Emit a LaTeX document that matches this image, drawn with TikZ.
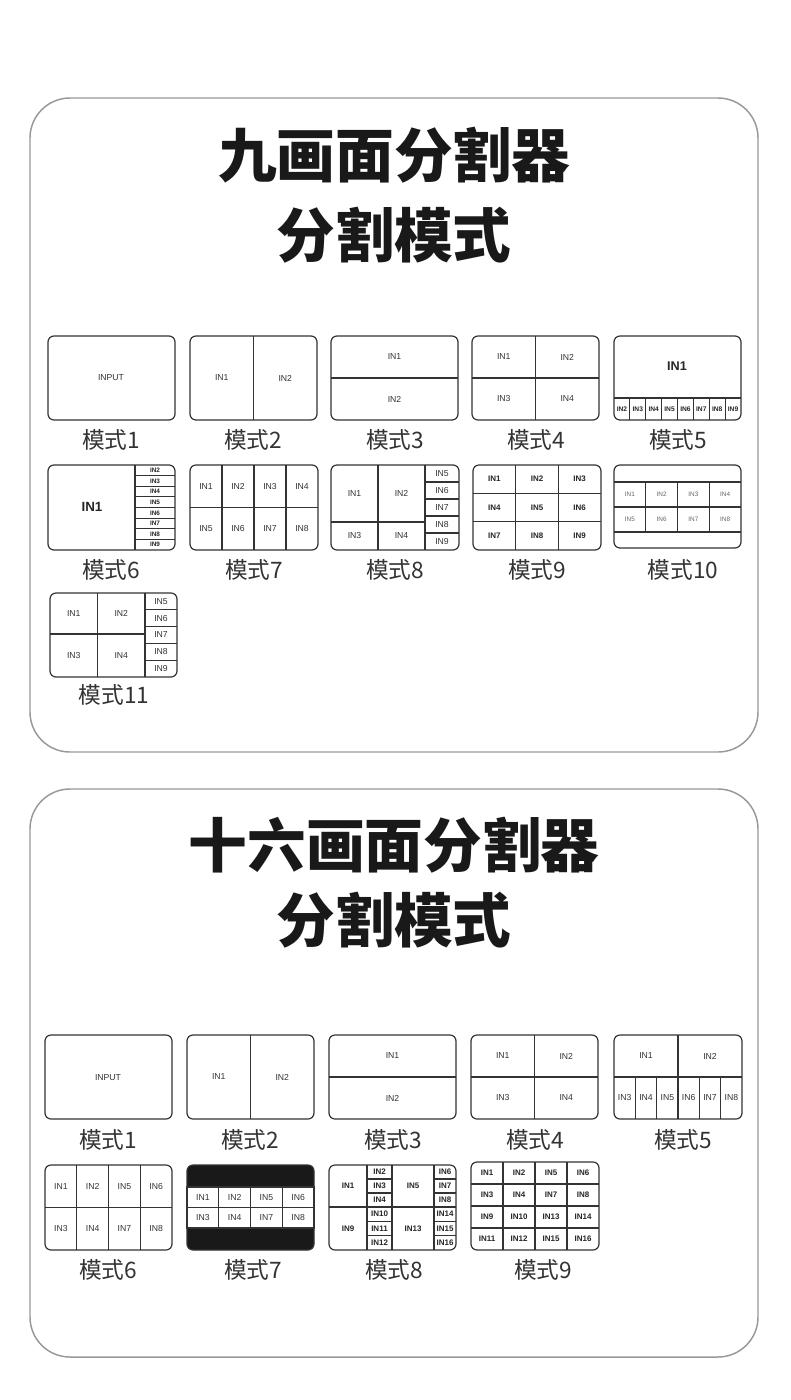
\documentclass[tikz,border=0pt]{standalone}
\usepackage{fontspec}
\setmainfont{Liberation Sans}
\newfontfamily\cjk{Noto Sans CJK SC}
\newfontfamily\cjkb{Noto Sans CJK SC Black}
\begin{document}
\begin{tikzpicture}[x=0.75pt,y=-0.75pt,
  lin/.style={draw=black!80,line width=0.9pt},
  bx/.style={lin,rounded corners=4.5pt},
  panel/.style={draw=black!40,line width=1.1pt,rounded corners=30pt},
  lab/.style={font=\fontsize{6.5}{7}\selectfont,text=black!80,inner sep=0pt},
  blab/.style={font=\fontsize{6}{7}\selectfont\bfseries,text=black!85,inner sep=0pt},
  mlab/.style={font=\cjk\fontsize{17}{19}\selectfont,text=black!80},
  ttl/.style={font=\cjkb\fontsize{44}{48}\selectfont,text=black!90}]
\fill[white] (0,0) rectangle (790,1400);
\useasboundingbox (0,0) rectangle (790,1400);
% cells macro: #1 style, x1 y1 x2 y2 ncol nrow labels
\newcommand\cells[8][lab]{%
  \pgfmathsetmacro\cw{(#4-#2)/#6}\pgfmathsetmacro\ch{(#5-#3)/#7}%
  \ifnum#6>1 \foreach \i in {1,...,\numexpr#6-1\relax}{\draw[lin] ({#2+\i*\cw},#3) -- ({#2+\i*\cw},#5);}\fi
  \ifnum#7>1 \foreach \j in {1,...,\numexpr#7-1\relax}{\draw[lin] (#2,{#3+\j*\ch}) -- (#4,{#3+\j*\ch});}\fi
  \foreach \l [count=\k from 0] in {#8}{%
    \pgfmathtruncatemacro\cc{mod(\k,#6)}\pgfmathtruncatemacro\rr{int(\k/#6)}%
    \node[#1] at ({#2+(\cc+0.5)*\cw},{#3+(\rr+0.5)*\ch}) {\l};}%
}
% ===== Panel 1 =====
\draw[panel] (30,98) rectangle (758,752);
\node[ttl] (t1) at (394,155) {九画面分割器};
\node[ttl] (t2) at (394,235) {分割模式};
% row 1
\draw[bx] (48,336) rectangle (175,420); \node[lab] at (111,378) {INPUT};
\draw[bx] (190,336) rectangle (317,420); \cells{190}{336}{317}{420}{2}{1}{IN1,IN2}
\draw[bx] (331,336) rectangle (458,420); \cells{331}{336}{458}{420}{1}{2}{IN1,IN2}
\draw[bx] (472,336) rectangle (599,420); \cells{472}{336}{599}{420}{2}{2}{IN1,IN2,IN3,IN4}
\draw[bx] (614,336) rectangle (741,420); \draw[lin] (614,398) -- (741,398);
\node[font=\fontsize{9.5}{10}\selectfont\bfseries,text=black!85] at (677,366) {IN1};
\cells[{blab,font=\fontsize{5}{6}\selectfont\bfseries}]{614}{398}{741}{420}{8}{1}{IN2,IN3,IN4,IN5,IN6,IN7,IN8,IN9}
\node[mlab] at (111,440) {模式1};
\node[mlab] at (253,440) {模式2};
\node[mlab] at (395,440) {模式3};
\node[mlab] at (536,440) {模式4};
\node[mlab] at (678,440) {模式5};
% row 2
\draw[bx] (48,465) rectangle (175,550); \draw[lin] (135,465) -- (135,550);
\node[font=\fontsize{10}{11}\selectfont\bfseries,text=black!85] at (92,507) {IN1};
\cells[{blab,font=\fontsize{4.8}{5}\selectfont\bfseries}]{135}{465}{175}{550}{1}{8}{IN2,IN3,IN4,IN5,IN6,IN7,IN8,IN9}
\draw[bx] (190,465) rectangle (318,550); \cells{190}{465}{318}{550}{4}{2}{IN1,IN2,IN3,IN4,IN5,IN6,IN7,IN8}
\draw[bx] (331,465) rectangle (459,550); \draw[lin] (425,465) -- (425,550); \draw[lin] (331,522) -- (425,522);
\cells{331}{465}{425}{522}{2}{1}{IN1,IN2} \cells{331}{522}{425}{550}{2}{1}{IN3,IN4}
\cells{425}{465}{459}{550}{1}{5}{IN5,IN6,IN7,IN8,IN9}
\draw[bx] (473,465) rectangle (601,550); \cells[blab]{473}{465}{601}{550}{3}{3}{IN1,IN2,IN3,IN4,IN5,IN6,IN7,IN8,IN9}
\draw[bx] (614,465) rectangle (741,548); \draw[lin] (614,482) -- (741,482); \draw[lin] (614,532) -- (741,532);
\cells[{lab,font=\fontsize{4.8}{5}\selectfont,text=black!60}]{614}{482}{741}{532}{4}{2}{IN1,IN2,IN3,IN4,IN5,IN6,IN7,IN8}
\node[mlab] at (111,570) {模式6};
\node[mlab] at (254,570) {模式7};
\node[mlab] at (395,570) {模式8};
\node[mlab] at (537,570) {模式9};
\node[mlab] at (683,570) {模式10};
% row 3
\draw[bx] (50,593) rectangle (177,677); \draw[lin] (145,593) -- (145,677); \draw[lin] (50,634) -- (145,634);
\cells{50}{593}{145}{634}{2}{1}{IN1,IN2} \cells{50}{634}{145}{677}{2}{1}{IN3,IN4}
\cells{145}{593}{177}{677}{1}{5}{IN5,IN6,IN7,IN8,IN9}
\node[mlab] at (114,695) {模式11};
% ===== Panel 2 =====
\draw[panel] (30,789) rectangle (758,1357);
\node[ttl] (t3) at (394,845) {十六画面分割器};
\node[ttl] (t4) at (394,920) {分割模式};
\draw[bx] (45,1035) rectangle (172,1119); \node[lab] at (108,1078) {INPUT};
\draw[bx] (187,1035) rectangle (314,1119); \cells{187}{1035}{314}{1119}{2}{1}{IN1,IN2}
\draw[bx] (329,1035) rectangle (456,1119); \cells{329}{1035}{456}{1119}{1}{2}{IN1,IN2}
\draw[bx] (471,1035) rectangle (598,1119); \cells{471}{1035}{598}{1119}{2}{2}{IN1,IN2,IN3,IN4}
\draw[bx] (614,1035) rectangle (742,1119); \draw[lin] (614,1077) -- (742,1077);
\cells{614}{1035}{742}{1077}{2}{1}{IN1,IN2}
\cells{614}{1077}{742}{1119}{6}{1}{IN3,IN4,IN5,IN6,IN7,IN8}
\node[mlab] at (108,1140) {模式1};
\node[mlab] at (250,1140) {模式2};
\node[mlab] at (393,1140) {模式3};
\node[mlab] at (535,1140) {模式4};
\node[mlab] at (683,1140) {模式5};
% row 2
\draw[bx] (45,1165) rectangle (172,1250); \cells{45}{1165}{172}{1250}{4}{2}{IN1,IN2,IN5,IN6,IN3,IN4,IN7,IN8}
\draw[bx,fill=black!90] (187,1165) rectangle (314,1250);
\draw[lin,fill=white] (187,1187) rectangle (314,1228); \cells{187}{1187}{314}{1228}{4}{2}{IN1,IN2,IN5,IN6,IN3,IN4,IN7,IN8}
\draw[bx] (329,1165) rectangle (456,1250);
\draw[lin] (367,1165) -- (367,1250); \draw[lin] (392,1165) -- (392,1250); \draw[lin] (434,1165) -- (434,1250); \draw[lin] (329,1207) -- (456,1207);
\node[blab] at (348,1186) {IN1}; \node[blab] at (413,1186) {IN5};
\node[blab] at (348,1229) {IN9}; \node[blab] at (413,1229) {IN13};
\cells[blab]{367}{1165}{392}{1207}{1}{3}{IN2,IN3,IN4}
\cells[blab]{434}{1165}{456}{1207}{1}{3}{IN6,IN7,IN8}
\cells[blab]{367}{1207}{392}{1250}{1}{3}{IN10,IN11,IN12}
\cells[blab]{434}{1207}{456}{1250}{1}{3}{IN14,IN15,IN16}
\draw[bx] (471,1162) rectangle (599,1250); \cells[blab]{471}{1162}{599}{1250}{4}{4}{IN1,IN2,IN5,IN6,IN3,IN4,IN7,IN8,IN9,IN10,IN13,IN14,IN11,IN12,IN15,IN16}
\node[mlab] at (108,1270) {模式6};
\node[mlab] at (253,1270) {模式7};
\node[mlab] at (394,1270) {模式8};
\node[mlab] at (543,1270) {模式9};
\end{tikzpicture}
\end{document}
